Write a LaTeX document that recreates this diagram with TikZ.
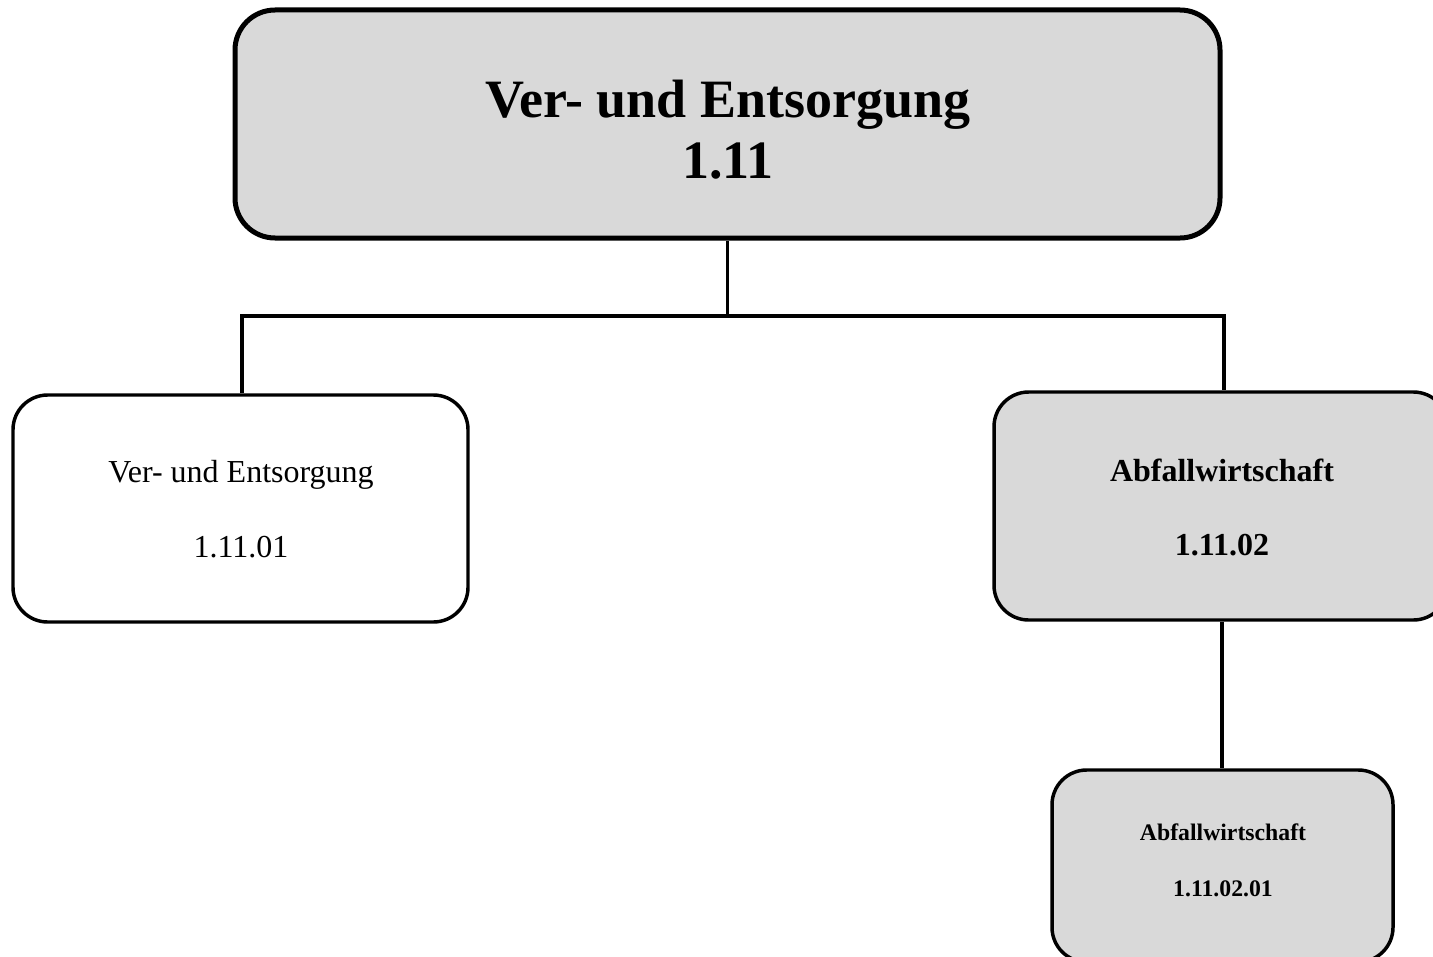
\documentclass[tikz,border=0pt]{standalone}
\usepackage{fontspec}
\setmainfont{Liberation Serif}
\definecolor{boxgray}{HTML}{D9D9D9}
\tikzset{
  bigbox/.style={draw=black, line width=3.75pt, rounded corners=30pt, fill=boxgray, inner sep=0pt, minimum width=738.75pt, minimum height=171pt},
  subbox/.style={draw=black, line width=2.6pt, rounded corners=26pt, inner sep=0pt},
  conn/.style={draw=black, line width=2.4pt},
  lbl/.style={anchor=base, inner sep=0pt}
}
\begin{document}
\begin{tikzpicture}[x=0.75pt, y=-0.75pt]
\clip (0,0) rectangle (1433,956);
\fill[white] (0,0) rectangle (1433,956);
% boxes
\node[bigbox] (top) at (727.5,124) {};
\node[subbox, fill=white, minimum width=341.25pt, minimum height=170.25pt] (left) at (240.5,508.5) {};
\node[subbox, fill=boxgray, minimum width=340.5pt, minimum height=171pt] (right) at (1221,506) {};
\node[subbox, fill=boxgray, minimum width=255.75pt, minimum height=144pt] (bottom) at (1222.5,866) {};
% connectors
\coordinate (bus) at (0,316);
\coordinate (busL) at (242,316);
\coordinate (busR) at (1224,316);
\coordinate (drop) at (1222,0);
\draw[conn] (top.south) -- (top.south |- bus);
\draw[conn] (left.north -| busL) -- (busL) -- (busR) -- (right.north -| busR);
\draw[conn] (right.south -| drop) -- (bottom.north -| drop);
% labels
\node[lbl, font=\bfseries\fontsize{40.5}{44}\selectfont] (t1) at (728,117) {Ver- und Entsorgung};
\node[lbl, font=\bfseries\fontsize{40.5}{44}\selectfont] (t2) at (728,178) {1.11};
\node[lbl, font=\fontsize{24}{28}\selectfont] (l1) at (241,482) {Ver- und Entsorgung};
\node[lbl, font=\fontsize{24}{28}\selectfont] (l2) at (241,557) {1.11.01};
\node[lbl, font=\bfseries\fontsize{24}{28}\selectfont] (r1) at (1222,481) {Abfallwirtschaft};
\node[lbl, font=\bfseries\fontsize{24}{28}\selectfont] (r2) at (1222,555) {1.11.02};
\node[lbl, font=\bfseries\fontsize{17.8}{21}\selectfont] (b1) at (1223,840) {Abfallwirtschaft};
\node[lbl, font=\bfseries\fontsize{17.8}{21}\selectfont] (b2) at (1223,896) {1.11.02.01};
\end{tikzpicture}
\end{document}
